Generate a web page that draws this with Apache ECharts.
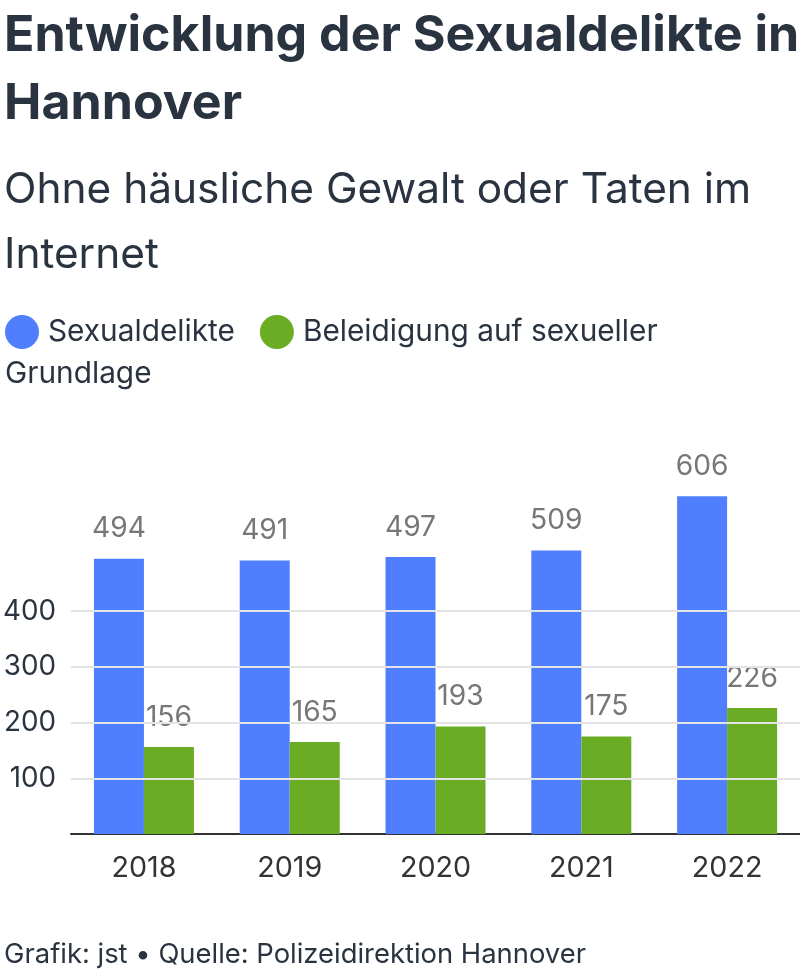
<!DOCTYPE html>
<html>
<head>
<meta charset="utf-8">
<script src="https://cdn.jsdelivr.net/npm/echarts@6/dist/echarts.min.js"></script>
<style>
html,body{margin:0;padding:0;background:#fff;}
#chart{width:800px;height:970px;}
</style>
</head>
<body>
<div id="chart"></div>
<script>
const titleLines = ['Entwicklung der Sexualdelikte in', 'Hannover'];
const subtitleLines = ['Ohne häusliche Gewalt oder Taten im', 'Internet'];
const footerText = 'Grafik: jst \u2022 Quelle: Polizeidirektion Hannover';
const years = ['2018', '2019', '2020', '2021', '2022'];
const seriesNames = ['Sexualdelikte', 'Beleidigung auf sexueller Grundlage'];
const sexualdelikte = [494, 491, 497, 509, 606];
const beleidigung = [156, 165, 193, 175, 226];
const yTicks = [100, 200, 300, 400];
const colors = ['#4f7fff', '#6aad24'];

const textColor = '#2a3440';
const bodyFont = 'Inter';
const titleFont = 'Inter';

// fit a font size so a text run reaches a measured width
const ctx = document.createElement('canvas').getContext('2d');
function fitSize(text, weight, family, target) {
  ctx.font = weight + ' 100px "' + family + '"';
  return Math.round(100 * target / ctx.measureText(text).width * 10) / 10;
}
const titleSize = fitSize(titleLines[0], 'bold', titleFont, 795);
const subSize = fitSize(subtitleLines[0], 'normal', bodyFont, 748);
const legendSize = fitSize(seriesNames[0], 'normal', bodyFont, 187);
const footerSize = fitSize(footerText, 'normal', bodyFont, 582);
const yearSize = fitSize('2018', 'normal', bodyFont, 65);
const valueSize = fitSize('494', 'normal', bodyFont, 54);
const ySize = fitSize('400', 'normal', bodyFont, 53);

const chart = echarts.init(document.getElementById('chart'), null, {renderer: 'canvas'});

const legendRich = {
  d0: {width: 34, height: 34, borderRadius: 17, backgroundColor: colors[0]},
  d1: {width: 34, height: 34, borderRadius: 17, backgroundColor: colors[1]},
  s: {width: 9},
  g: {width: 25},
  t: {fontSize: legendSize, fontFamily: bodyFont, fontWeight: 'normal', color: textColor, lineHeight: 42}
};
const n1 = seriesNames[1].split(' ');
const legendText = '{d0|}{s|}{t|' + seriesNames[0] + '}{g|}{d1|}{s|}{t|' + n1.slice(0, 3).join(' ') + '}\n{t|' + n1.slice(3).join(' ') + '}';

const option = {
  animation: false,
  backgroundColor: '#ffffff',
  title: [
    {
      text: titleLines.join('\n'), left: -1, top: -3,
      textStyle: {fontFamily: titleFont, fontWeight: 'bold', fontSize: titleSize, lineHeight: 68, color: textColor}
    },
    {
      text: subtitleLines.join('\n'), left: -1, top: 153,
      textStyle: {fontFamily: bodyFont, fontWeight: 'normal', fontSize: subSize, lineHeight: 65, color: textColor}
    },
    {
      text: legendText, left: 0, top: 306,
      textStyle: {rich: legendRich, lineHeight: 42}
    },
    {
      text: footerText, left: -1, top: 936,
      textStyle: {fontFamily: bodyFont, fontWeight: 'normal', fontSize: footerSize, color: textColor}
    }
  ],
  grid: {left: 70, right: 0, top: 444, bottom: 136, containLabel: false},
  xAxis: {
    type: 'category',
    data: years,
    axisLine: {show: true, lineStyle: {color: '#333333', width: 2}},
    axisTick: {show: false},
    axisLabel: {fontFamily: bodyFont, fontSize: yearSize, color: '#333333', margin: 20}
  },
  yAxis: {
    type: 'value',
    min: 0, max: 700, interval: 100,
    splitLine: {show: false},
    axisLine: {show: false},
    axisTick: {show: false},
    axisLabel: {
      fontFamily: bodyFont, fontSize: ySize, color: textColor, margin: 15,
      formatter: function (v) { return yTicks.indexOf(v) >= 0 ? String(v) : ''; }
    }
  },
  series: [
    {
      type: 'line', data: [], z: 0, silent: true,
      markLine: {
        silent: true, symbol: 'none', label: {show: false},
        lineStyle: {color: '#e3e3e3', width: 2, type: 'solid'},
        data: yTicks.map(v => ({yAxis: v}))
      }
    },
    {
      name: seriesNames[0], type: 'bar', data: sexualdelikte, barWidth: 50, barGap: '0%', z: 2,
      itemStyle: {color: colors[0]},
      label: {show: true, position: 'top', distance: 16, fontFamily: bodyFont, fontSize: valueSize, color: '#777777'}
    },
    {
      name: seriesNames[1], type: 'bar', data: beleidigung, barWidth: 50, barGap: '0%', z: 2,
      itemStyle: {color: colors[1]},
      label: {show: true, position: 'top', distance: 16, fontFamily: bodyFont, fontSize: valueSize, color: '#777777'}
    }
  ]
};
chart.setOption(option);
</script>
</body>
</html>
